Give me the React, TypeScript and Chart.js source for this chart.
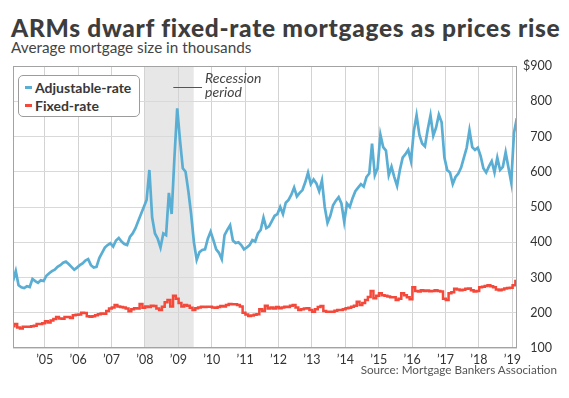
import React, { useEffect, useRef } from "react";
import { Chart, registerables } from "chart.js";

Chart.register(...registerables);

// Monthly averages, Jan 2004 .. Feb 2019 (thousands of dollars)
const START_YEAR = 2004;

const adjustableRate = [
  290, 318, 278, 272, 270, 275, 273, 296, 290, 285, 292, 290, // 2004
  305, 312, 318, 322, 330, 335, 342, 345, 338, 330, 322, 328, // 2005
  335, 340, 348, 352, 335, 328, 330, 355, 370, 385, 392, 397, // 2006
  388, 405, 412, 402, 395, 392, 415, 425, 440, 460, 480, 500, // 2007
  520, 605, 470, 425, 410, 385, 425, 420, 540, 480, 640, 780, // 2008
  690, 610, 600, 545, 480, 400, 350, 372, 378, 380, 410, 430, // 2009
  406, 380, 370, 352, 420, 435, 448, 405, 398, 400, 392, 380, // 2010
  385, 392, 406, 402, 425, 435, 470, 440, 445, 460, 475, 480, // 2011
  500, 480, 512, 520, 535, 555, 530, 540, 548, 570, 597, 565, // 2012
  578, 567, 545, 575, 500, 455, 475, 505, 518, 528, 510, 458, // 2013
  510, 500, 525, 545, 555, 565, 558, 585, 595, 680, 590, 610, // 2014
  705, 670, 660, 590, 614, 585, 560, 605, 640, 650, 662, 630, // 2015
  715, 760, 705, 680, 672, 720, 760, 702, 725, 762, 740, 640, // 2016
  605, 598, 565, 585, 595, 612, 640, 668, 718, 670, 662, 668, // 2017
  645, 610, 598, 615, 630, 598, 640, 605, 614, 655, 612, 570, // 2018
  710, 752, // 2019
];

const fixedRate = [
  162, 168, 158, 155, 160, 160, 160, 162, 163, 168, 168, 170, // 2004
  176, 172, 178, 182, 188, 184, 183, 188, 188, 185, 193, 194, // 2005
  195, 200, 199, 190, 189, 190, 193, 196, 198, 197, 205, 212, // 2006
  215, 222, 218, 216, 215, 212, 204, 210, 213, 212, 225, 214, // 2007
  218, 216, 220, 219, 212, 208, 217, 230, 236, 218, 248, 240, // 2008
  228, 218, 222, 220, 214, 208, 213, 215, 217, 216, 217, 217, // 2009
  215, 214, 216, 219, 218, 222, 225, 224, 224, 222, 218, 200, // 2010
  195, 191, 192, 194, 196, 210, 205, 220, 212, 215, 212, 216, // 2011
  213, 215, 217, 216, 220, 222, 215, 208, 210, 212, 213, 208, // 2012
  203, 210, 216, 219, 205, 203, 203, 203, 206, 208, 208, 210, // 2013
  213, 214, 217, 220, 231, 222, 228, 236, 245, 262, 241, 248, // 2014
  255, 250, 248, 246, 244, 244, 236, 240, 255, 250, 244, 238, // 2015
  272, 262, 260, 264, 262, 263, 261, 262, 264, 262, 260, 240, // 2016
  236, 255, 258, 268, 266, 264, 265, 268, 269, 264, 260, 262, // 2017
  272, 274, 276, 278, 275, 272, 266, 264, 266, 269, 270, 271, // 2018
  278, 290, // 2019
];

const seriesNames = ["Adjustable-rate", "Fixed-rate"];
const seriesColors = ["#5aaed3", "#f4493a"];
const yearTicks = [2005, 2006, 2007, 2008, 2009, 2010, 2011, 2012, 2013, 2014, 2015, 2016, 2017, 2018, 2019];
const valueTicks = [100, 200, 300, 400, 500, 600, 700, 800, 900];
const recessionPeriod = [2007.99, 2009.46];
const recessionLabel = ["Recession", "period"];

const X_MIN = 2004.05;
const X_MAX = 2019.14;

function toPoints(values: number[]) {
  return values.map((v, i) => ({ x: START_YEAR + (i + 0.6) / 12, y: v }));
}

const decorPlugin = {
  id: "decor",
  beforeDraw(chart: any) {
    const { ctx, chartArea: a, scales } = chart;
    const xs = scales.x;
    const x0 = xs.getPixelForValue(recessionPeriod[0]);
    const x1 = xs.getPixelForValue(recessionPeriod[1]);
    ctx.save();
    ctx.fillStyle = "#e7e7e7";
    ctx.fillRect(x0, a.top, x1 - x0, a.bottom - a.top);
    ctx.restore();
  },
  afterDraw(chart: any) {
    const { ctx, chartArea: a, scales } = chart;
    const xs = scales.x;
    const ys = scales.y;
    ctx.save();
    ctx.strokeStyle = "#a3a3a3";
    ctx.lineWidth = 1;
    ctx.strokeRect(Math.round(a.left) + 0.5, Math.round(a.top) + 0.5, Math.round(a.right - a.left) - 1, Math.round(a.bottom - a.top) - 1);
    // recession annotation
    const ly = Math.round(ys.getPixelForValue(840)) + 0.5;
    ctx.strokeStyle = "#555";
    ctx.beginPath();
    ctx.moveTo(xs.getPixelForValue(2008.85), ly);
    ctx.lineTo(xs.getPixelForValue(2009.71), ly);
    ctx.stroke();
    ctx.fillStyle = "#444";
    ctx.font = "italic 14px Lato";
    ctx.textAlign = "left";
    ctx.textBaseline = "alphabetic";
    const tx = xs.getPixelForValue(2009.8);
    ctx.fillText(recessionLabel[0], tx, ys.getPixelForValue(852) + 0.5);
    ctx.fillText(recessionLabel[1], tx, ys.getPixelForValue(852) + 14.5);
    ctx.restore();
  },
};

export default function App() {
  const canvasRef = useRef<HTMLCanvasElement>(null);

  useEffect(() => {
    if (!canvasRef.current) return;
    Chart.defaults.font.family = "Lato";
    const chart = new Chart(canvasRef.current, {
      type: "line",
      data: {
        datasets: [
          {
            label: seriesNames[0],
            data: toPoints(adjustableRate),
            borderColor: seriesColors[0],
            backgroundColor: seriesColors[0],
            borderWidth: 2.7,
            pointRadius: 0,
            tension: 0,
          },
          {
            label: seriesNames[1],
            data: toPoints(fixedRate),
            borderColor: seriesColors[1],
            backgroundColor: seriesColors[1],
            borderWidth: 2.5,
            pointRadius: 0,
            stepped: "middle",
          },
        ],
      },
      options: {
        animation: false,
        responsive: false,
        devicePixelRatio: 1,
        layout: { padding: { left: 13, top: 66, right: 17, bottom: 0 } },
        plugins: { legend: { display: false }, tooltip: { enabled: false } },
        scales: {
          x: {
            type: "linear",
            min: X_MIN,
            max: X_MAX,
            afterBuildTicks: (s: any) => {
              s.ticks = yearTicks.map((v) => ({ value: v }));
            },
            afterFit: (s: any) => {
              s.height = 50;
            },
            grid: { color: "#d3d3d3", lineWidth: 1, drawTicks: false },
            border: { display: false },
            ticks: {
              autoSkip: false,
              maxRotation: 0,
              padding: 4,
              color: "#333",
              font: { size: 12.5, family: "Lato" },
              callback: (v: any) => "\u2019" + String(v).slice(2),
            },
          },
          y: {
            type: "linear",
            position: "right",
            min: 100,
            max: 900,
            afterBuildTicks: (s: any) => {
              s.ticks = valueTicks.map((v) => ({ value: v }));
            },
            afterFit: (s: any) => {
              s.width = 35;
            },
            grid: { color: "#d9d9d9", lineWidth: 1, drawTicks: false },
            border: { display: false },
            ticks: {
              padding: 3,
              crossAlign: "far",
              color: "#333",
              font: { size: 12.5, family: "Lato" },
              callback: (v: any) => (v === 900 ? "$900" : String(v)),
            },
          },
        },
      },
      plugins: [decorPlugin],
    });
    return () => chart.destroy();
  }, []);

  return (
    <div style={{ position: "fixed", left: 0, top: 0, width: 569, height: 398, background: "#fff", fontFamily: "Lato" }}>
      <div style={{ position: "absolute", left: 11, top: 12.7, font: "900 24.5px Lato", lineHeight: "29px", letterSpacing: "0.7px", color: "#3d3d3d", whiteSpace: "nowrap" }}>
        ARMs dwarf fixed-rate mortgages as prices rise
      </div>
      <div style={{ position: "absolute", left: 11, top: 37.8, font: "15.3px Lato", lineHeight: "18px", color: "#444", whiteSpace: "nowrap" }}>
        Average mortgage size in thousands
      </div>
      <canvas ref={canvasRef} width={569} height={398} style={{ position: "absolute", left: 0, top: 0, width: 569, height: 398 }} />
      <div
        style={{
          position: "absolute",
          left: 18,
          top: 75,
          width: 122,
          height: 42,
          boxSizing: "border-box",
          border: "1px solid #9c9c9c",
          borderRadius: 5,
          background: "#fff",
          padding: "2px 0 0 6px",
          font: "bold 14px Lato",
          color: "#383838",
        }}
      >
        {seriesNames.map((n, i) => (
          <div key={n} style={{ display: "flex", alignItems: "center", height: 18, whiteSpace: "nowrap" }}>
            <span style={{ display: "inline-block", width: 7, height: 3, background: seriesColors[i], marginRight: 3 }} />
            {n}
          </div>
        ))}
      </div>
      <div style={{ position: "absolute", right: 12, top: 362.3, font: "11.7px Lato", lineHeight: "15px", color: "#555", whiteSpace: "nowrap" }}>
        Source: Mortgage Bankers Association
      </div>
    </div>
  );
}
